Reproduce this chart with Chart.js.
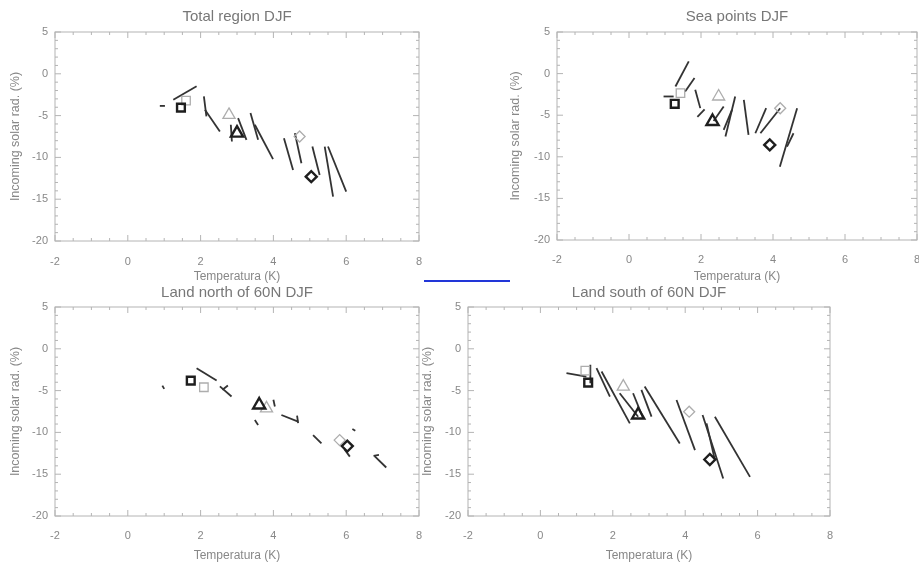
<!DOCTYPE html>
<html>
<head>
<meta charset="utf-8">
<script src="https://cdn.jsdelivr.net/npm/chart.js@4.4.1/dist/chart.umd.min.js"></script>
<style>
  body { margin: 0; background: #fff; }
  #wrap { position: relative; width: 919px; height: 568px; overflow: hidden; }
  canvas { position: absolute; }
  #link { position: absolute; left: 424px; top: 280px; width: 86px; height: 2px; background: #2236d8; z-index: 5; }
</style>
</head>
<body>
<div id="wrap">
  <canvas id="c1" width="460" height="284" style="left:0;top:0"></canvas>
  <canvas id="c2" width="480" height="284" style="left:460px;top:0"></canvas>
  <canvas id="c3" width="440" height="284" style="left:0;top:284px"></canvas>
  <canvas id="c4" width="499" height="284" style="left:420px;top:284px"></canvas>
  <div id="link"></div>
</div>

<script>
// axis ticks shared by all panels
var xTicks = [-2, 0, 2, 4, 6, 8];
var yTicks = [-20, -15, -10, -5, 0, 5];

// segments: [temp1, rad1, temp2, rad2]
var totalSegs = [
  [0.88, -3.84, 1.02, -3.84], [1.25, -3.1, 1.89, -1.5], [2.09, -2.7, 2.16, -5.1],
  [2.12, -4.3, 2.53, -6.9], [2.83, -6.1, 2.86, -8.1], [3.03, -5.3, 3.26, -7.9],
  [3.37, -4.7, 3.58, -7.9], [3.49, -6.1, 3.99, -10.2], [4.29, -7.7, 4.54, -11.5],
  [4.59, -7.1, 4.77, -10.7], [5.07, -8.7, 5.27, -12.1], [5.41, -8.7, 5.64, -14.7],
  [5.5, -8.7, 6.0, -14.1]
];
var totalBold = [[1.46, -4.04], [3.0, -7.1], [5.04, -12.3]];
var totalGray = [[1.6, -3.2], [2.78, -4.92], [4.72, -7.5]];

var seaSegs = [
  [0.96, -2.75, 1.24, -2.75], [1.29, -1.55, 1.66, 1.47], [1.56, -2.15, 1.82, -0.54],
  [1.84, -1.95, 1.98, -4.15], [1.9, -5.2, 2.1, -4.3], [2.35, -5.7, 2.63, -3.96],
  [2.68, -7.57, 2.95, -2.75], [2.63, -6.77, 2.86, -4.36], [3.19, -3.15, 3.32, -7.37],
  [3.51, -7.17, 3.81, -4.16], [3.65, -7.17, 4.2, -4.16], [4.19, -11.2, 4.67, -4.16],
  [4.39, -8.77, 4.57, -7.17]
];
var seaBold = [[1.27, -3.63], [2.32, -5.76], [3.91, -8.57]];
var seaGray = [[1.43, -2.35], [2.49, -2.75], [4.2, -4.16]];

var northSegs = [
  [0.95, -4.4, 1.0, -4.8], [1.89, -2.32, 2.44, -3.8], [2.53, -4.5, 2.85, -5.7],
  [2.6, -4.9, 2.75, -4.4], [4.0, -6.1, 4.04, -6.9], [4.22, -7.92, 4.68, -8.72],
  [4.65, -8.0, 4.68, -8.9], [3.49, -8.52, 3.58, -9.12], [5.09, -10.32, 5.32, -11.32],
  [5.95, -12.0, 6.1, -12.9], [6.17, -9.6, 6.25, -9.8], [6.78, -12.84, 7.1, -14.2],
  [6.75, -12.8, 6.9, -12.7]
];
var northBold = [[1.73, -3.8], [3.61, -6.72], [6.03, -11.64]];
var northGray = [[2.09, -4.6], [3.81, -7.12], [5.82, -10.92]];

var southSegs = [
  [0.72, -2.92, 1.27, -3.32], [1.38, -1.92, 1.38, -4.12], [1.55, -2.32, 1.92, -5.72],
  [1.69, -2.72, 2.47, -8.92], [2.19, -5.32, 2.7, -8.12], [2.56, -5.32, 2.84, -8.32],
  [2.79, -4.92, 3.07, -8.12], [2.88, -4.52, 3.85, -11.32], [3.76, -6.12, 4.27, -12.12],
  [4.48, -7.92, 5.05, -15.52], [4.59, -8.92, 4.82, -13.32], [4.82, -8.12, 5.79, -15.32]
];
var southBold = [[1.32, -4.04], [2.7, -7.92], [4.68, -13.24]];
var southGray = [[1.24, -2.6], [2.29, -4.52], [4.11, -7.52]];

Chart.defaults.font.family = "'Liberation Sans', Arial, sans-serif";
Chart.defaults.color = '#888';

// box frame with inward major/minor ticks on all four sides
var frameTicks = {
  id: 'frameTicks',
  afterDraw: function (chart) {
    var ctx = chart.ctx, a = chart.chartArea;
    var x = chart.scales.x, y = chart.scales.y;
    ctx.save();
    ctx.strokeStyle = '#b4b4b4';
    ctx.lineWidth = 1;
    ctx.strokeRect(a.left, a.top, a.right - a.left, a.bottom - a.top);
    ctx.beginPath();
    for (var v = x.min; v <= x.max + 1e-9; v += 0.5) {
      var px = x.getPixelForValue(v);
      var len = Math.abs(v % 2) < 1e-9 ? 6 : 3;
      ctx.moveTo(px, a.bottom); ctx.lineTo(px, a.bottom - len);
      ctx.moveTo(px, a.top); ctx.lineTo(px, a.top + len);
    }
    for (var w = y.min; w <= y.max + 1e-9; w += 1) {
      var py = y.getPixelForValue(w);
      var l2 = Math.abs(w % 5) < 1e-9 ? 6 : 3;
      ctx.moveTo(a.left, py); ctx.lineTo(a.left + l2, py);
      ctx.moveTo(a.right, py); ctx.lineTo(a.right - l2, py);
    }
    ctx.stroke();
    ctx.restore();
  }
};

function makePanel(id, title, segs, bold, gray, lay) {
  var datasets = [];
  datasets.push({
    data: bold.map(function (p) { return {x: p[0], y: p[1]}; }),
    showLine: false,
    pointStyle: ['rect', 'triangle', 'rectRot'],
    pointRadius: [5.5, 7, 5.5],
    borderColor: '#1e1e1e',
    borderWidth: 2.4,
    backgroundColor: 'rgba(0,0,0,0)'
  });
  datasets.push({
    data: gray.map(function (p) { return {x: p[0], y: p[1]}; }),
    showLine: false,
    pointStyle: ['rect', 'triangle', 'rectRot'],
    pointRadius: [6, 7, 5.5],
    borderColor: '#adadad',
    borderWidth: 1.3,
    backgroundColor: 'rgba(0,0,0,0)'
  });
  segs.forEach(function (s) {
    datasets.push({
      data: [{x: s[0], y: s[1]}, {x: s[2], y: s[3]}],
      showLine: true,
      borderColor: '#333',
      borderWidth: 1.8,
      pointRadius: 0
    });
  });

  new Chart(document.getElementById(id), {
    type: 'scatter',
    data: { datasets: datasets },
    options: {
      responsive: false,
      animation: false,
      devicePixelRatio: 1,
      layout: { padding: lay.pad },
      plugins: {
        legend: { display: false },
        tooltip: { enabled: false },
        title: {
          display: true,
          text: title,
          fullSize: false,
          color: '#777',
          font: { size: 15, weight: 'normal' },
          padding: lay.titlePad
        }
      },
      scales: {
        x: {
          type: 'linear',
          min: -2, max: 8,
          afterBuildTicks: function (sc) { sc.ticks = xTicks.map(function (v) { return {value: v}; }); },
          afterFit: function (sc) { sc.height = lay.xH; },
          grid: { display: false, drawTicks: false },
          border: { display: false },
          ticks: { padding: lay.xPad, color: '#888', font: { size: 11 }, maxRotation: 0 },
          title: { display: true, text: 'Temperatura (K)', color: '#888', font: { size: 12 }, padding: 0 }
        },
        y: {
          type: 'linear',
          min: -20, max: 5,
          afterBuildTicks: function (sc) { sc.ticks = yTicks.map(function (v) { return {value: v}; }); },
          afterFit: function (sc) { sc.width = lay.yW; },
          grid: { display: false, drawTicks: false },
          border: { display: false },
          ticks: { padding: 7, color: '#888', font: { size: 11 } },
          title: { display: true, text: 'Incoming solar rad. (%)', color: '#888', font: { size: 12.5 }, padding: 0 }
        }
      }
    },
    plugins: [frameTicks]
  });
}

makePanel('c1', 'Total region DJF', totalSegs, totalBold, totalGray, {
  pad: {left: 8, right: 41, top: 0, bottom: 0}, titlePad: {top: 8, bottom: 6}, yW: 47, xH: 43, xPad: 14
});
makePanel('c2', 'Sea points DJF', seaSegs, seaBold, seaGray, {
  pad: {left: 48, right: 23, top: 0, bottom: 0}, titlePad: {top: 8, bottom: 6}, yW: 49, xH: 44, xPad: 13
});
makePanel('c3', 'Land north of 60N DJF', northSegs, northBold, northGray, {
  pad: {left: 8, right: 21, top: 0, bottom: 5}, titlePad: {top: 0, bottom: 5}, yW: 47, xH: 47, xPad: 13
});
makePanel('c4', 'Land south of 60N DJF', southSegs, southBold, southGray, {
  pad: {left: 0, right: 89, top: 0, bottom: 5}, titlePad: {top: 0, bottom: 5}, yW: 48, xH: 47, xPad: 13
});
</script>
</body>
</html>
